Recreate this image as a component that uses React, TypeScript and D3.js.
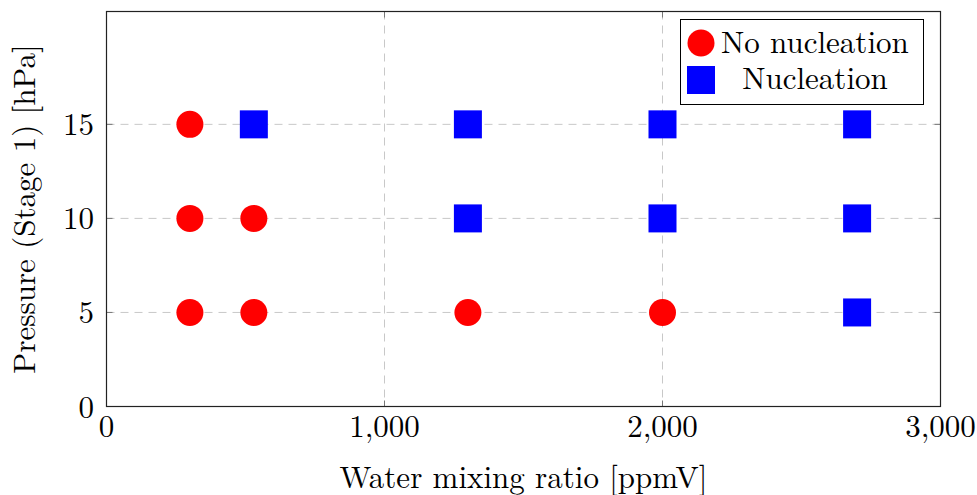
import React from "react";
import * as d3 from "d3";

const noNucX = [300, 300, 300, 530, 530, 1300, 2000];
const noNucY = [5, 10, 15, 5, 10, 5, 5];
const nucX = [530, 1300, 1300, 2000, 2000, 2700, 2700, 2700];
const nucY = [15, 15, 10, 15, 10, 15, 10, 5];
const xTicks = [0, 1000, 2000, 3000];
const yTicks = [0, 5, 10, 15];
const legendLabels = ["No nucleation", "Nucleation"];

const W = 977, H = 495;
const left = 106.5, right = 940.5, top = 11.5, bottom = 406.5;
const FONT = "'Latin Modern Roman', 'CMU Serif', 'DejaVu Serif', serif";

export default function App() {
  const x = d3.scaleLinear().domain([0, 3000]).range([left, right]);
  const y = d3.scaleLinear().domain([0, 21]).range([bottom, top]);
  const fmt = d3.format(",");
  const fs = 31;
  return (
    <svg width={W} height={H} style={{ position: "absolute", left: 0, top: 0, background: "#fff" }} fontFamily={FONT}>
      {/* grid */}
      {xTicks.filter(t => t > 0 && t < 3000).map(t => (
        <line key={"gx" + t} x1={x(t)} x2={x(t)} y1={top} y2={bottom} stroke="#c8c8c8" strokeDasharray="8,6" strokeWidth={1} />
      ))}
      {yTicks.filter(t => t > 0).map(t => (
        <line key={"gy" + t} x1={left} x2={right} y1={y(t)} y2={y(t)} stroke="#c8c8c8" strokeDasharray="8,6" strokeWidth={1} />
      ))}
      {/* ticks */}
      {yTicks.filter(t => t > 0).map(t => (
        <g key={"ty" + t}>
          <line x1={left} x2={left + 6} y1={y(t)} y2={y(t)} stroke="#777" />
          <line x1={right - 6} x2={right} y1={y(t)} y2={y(t)} stroke="#777" />
        </g>
      ))}
      {xTicks.filter(t => t > 0 && t < 3000).map(t => (
        <g key={"tx" + t}>
          <line x1={x(t)} x2={x(t)} y1={bottom} y2={bottom - 6} stroke="#777" />
          <line x1={x(t)} x2={x(t)} y1={top} y2={top + 6} stroke="#777" />
        </g>
      ))}
      {/* frame */}
      <rect x={left} y={top} width={right - left} height={bottom - top} fill="none" stroke="#222" strokeWidth={1.2} />
      {/* tick labels */}
      {xTicks.map(t => (
        <text key={"lx" + t} x={x(t)} y={437} textAnchor="middle" fontSize={fs} fill="#000">{fmt(t)}</text>
      ))}
      {yTicks.map(t => (
        <text key={"ly" + t} x={94} y={y(t) + 11} textAnchor="end" fontSize={fs} fill="#000">{t}</text>
      ))}
      {/* axis labels */}
      <text x={(left + right) / 2} y={488} textAnchor="middle" fontSize={fs} fill="#000">Water mixing ratio [ppmV]</text>
      <text transform={`translate(35,${(top + bottom) / 2}) rotate(-90)`} textAnchor="middle" fontSize={fs} fill="#000">Pressure (Stage 1) [hPa]</text>
      {/* points */}
      {noNucX.map((v, i) => (
        <circle key={"c" + i} cx={x(v)} cy={y(noNucY[i])} r={13.5} fill="#ff0000" />
      ))}
      {nucX.map((v, i) => (
        <rect key={"s" + i} x={x(v) - 14} y={y(nucY[i]) - 14} width={28} height={28} fill="#0000ff" />
      ))}
      {/* legend */}
      <rect x={680.5} y={19.5} width={243} height={85} fill="#fff" stroke="#000" strokeWidth={1} />
      <circle cx={701} cy={43} r={13.5} fill="#ff0000" />
      <rect x={687} y={66} width={28} height={28} fill="#0000ff" />
      <text x={721} y={53} fontSize={fs} fill="#000">{legendLabels[0]}</text>
      <text x={815} y={89} textAnchor="middle" fontSize={fs} fill="#000">{legendLabels[1]}</text>
    </svg>
  );
}
